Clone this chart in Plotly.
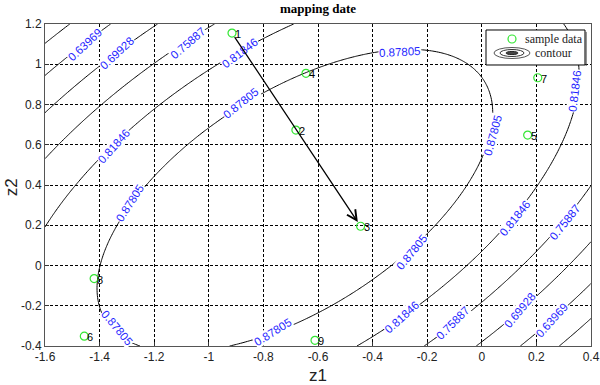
import numpy as np
import plotly.graph_objects as go

# ---------------- data ----------------
sample_z1 = [-0.915, -0.681, -0.444, -0.644, 0.168, -1.456, 0.205, -1.42, -0.611]
sample_z2 = [1.155, 0.673, 0.195, 0.955, 0.648, -0.351, 0.933, -0.065, -0.372]
sample_ids = ["1", "2", "3", "4", "5", "6", "7", "8", "9"]

contour_levels = [0.5801, 0.63969, 0.69928, 0.75887, 0.81846, 0.87805]

# points (z1, z2)
lvA_z1 = [-1.6, -1.49, 0.323, 0.40]
lvA_z2 = [1.105, 1.2, -0.40, -0.256]

lvB_z1 = [-1.6, -1.52, -1.39, -1.355, 0.129, 0.202, 0.312, 0.40]
lvB_z2 = [0.94, 1.016, 1.18, 1.2, -0.40, -0.355, -0.186, -0.07]

lvC_z1 = [-1.6, -1.545, -1.406, -1.263, -1.19, -0.007, 0.078, 0.202, 0.25, 0.312, 0.40]
lvC_z2 = [0.762, 0.83, 0.966, 1.145, 1.2, -0.405, -0.32, -0.123, -0.074, 0.011, 0.11]

lvD_z1 = [-1.6, -1.40, -1.215, -1.142, -1.007, -0.99, -0.219, -0.164, -0.043, 0.092, 0.202, 0.25, 0.36, 0.40]
lvD_z2 = [0.56, 0.77, 1.006, 1.03, 1.195, 1.2, -0.40, -0.37, -0.196, -0.074, 0.077, 0.127, 0.31, 0.38]

lvE_z1 = [-1.6, -1.40, -1.289, -1.215, -0.97, -0.81, -0.677,
          0.28, 0.349, 0.35, 0.345, 0.286, 0.25, 0.195, 0.177, 0.067, -0.08, -0.153, -0.226, -0.362, -0.475]
lvE_z2 = [0.21, 0.524, 0.673, 0.76, 0.996, 1.13, 1.2,
          1.2, 0.99, 0.87, 0.75, 0.583, 0.524, 0.40, 0.325, 0.142, -0.007, -0.074, -0.171, -0.335, -0.40]

lvF_z1 = [-1.406, -1.387, -1.336, -1.241, -1.08, -0.948, -0.81, -0.63, -0.41, -0.20, -0.043, 0.019, 0.041,
          0.045, 0.004, -0.069, -0.153, -0.325, -0.545, -0.666, -0.849, -0.97, -1.208, -1.40, -1.41]
lvF_z2 = [0.0, 0.11, 0.225, 0.41, 0.624, 0.733, 0.88, 0.966, 1.06, 1.07, 1.006, 0.887, 0.812,
          0.70, 0.538, 0.374, 0.21, -0.024, -0.188, -0.263, -0.357, -0.40, -0.40, -0.21, -0.09]

level_points = [(lvA_z1, lvA_z2), (lvB_z1, lvB_z2), (lvC_z1, lvC_z2),
                (lvD_z1, lvD_z2), (lvE_z1, lvE_z2), (lvF_z1, lvF_z2)]

# contour labels: text, z1, z2, angle
label_text = ["0.63969", "0.69928", "0.75887", "0.81846", "0.81846", "0.87805", "0.87805", "0.87805",
              "0.87805", "0.87805", "0.87805", "0.87805", "0.81846", "0.81846", "0.81846", "0.75887",
              "0.75887", "0.69928", "0.63969"]
label_z1 = [-1.455, -1.336, -1.076, -0.886, -1.347, -0.882, -1.289, -0.300,
            0.041, -1.336, -0.765, -0.256, 0.341, 0.122, -0.292, 0.305,
            -0.106, 0.140, 0.257]
label_z2 = [1.098, 1.056, 1.106, 1.056, 0.594, 0.807, 0.311, 1.061,
            0.648, -0.311, -0.330, 0.067, 0.867, 0.236, -0.256, 0.216,
            -0.286, -0.221, -0.271]
label_angle = [-43, -43, -41, -37, -48, -39, -57, -3,
               -75, 50, -32, -51, -83, -51, -42, -51,
               -45, -50, -48]

# ---------------- quadratic surface fitted to the read contour points ----------------
PX, PY, PL = [], [], []
for (xs, ys), lev in zip(level_points, contour_levels):
    PX += xs
    PY += ys
    PL += [lev] * len(xs)
PX, PY, PL = np.array(PX), np.array(PY), np.array(PL)

DEG = 2


def basis(x, y):
    return np.stack([x ** i * y ** j for i in range(DEG + 1) for j in range(DEG + 1 - i)], axis=-1)


coef, *_ = np.linalg.lstsq(basis(PX, PY), PL, rcond=None)
gx = np.linspace(-1.6, 0.4, 241)
gy = np.linspace(-0.4, 1.2, 193)
GX, GY = np.meshgrid(gx, gy)
GZ = (basis(GX.ravel(), GY.ravel()) @ coef).reshape(GX.shape)

step = contour_levels[2] - contour_levels[1]

fig = go.Figure()

fig.add_trace(go.Contour(
    x=gx, y=gy, z=GZ, showscale=False, hoverinfo="skip", autocontour=False,
    contours=dict(start=contour_levels[0], end=contour_levels[-1] + 1e-5, size=step,
                  coloring="none", showlabels=False),
    line=dict(color="black", width=1), showlegend=False))

# sample points
fig.add_trace(go.Scatter(
    x=sample_z1, y=sample_z2, mode="markers", showlegend=False, hoverinfo="skip",
    marker=dict(symbol="circle-open", size=8, color="#33e633", line=dict(width=1.2, color="#33e633"))))

annotations = []
for t, xi, yi, a in zip(label_text, label_z1, label_z2, label_angle):
    annotations.append(dict(x=xi, y=yi, xref="x", yref="y", text=t, showarrow=False, textangle=a,
                            bgcolor="white", borderpad=0,
                            font=dict(family="Arial, Liberation Sans", size=11.5, color="#1f1fff")))

for xi, yi, t in zip(sample_z1, sample_z2, sample_ids):
    annotations.append(dict(x=xi, y=yi, xref="x", yref="y", text=t, showarrow=False,
                            xanchor="left", xshift=1, yshift=-1,
                            font=dict(family="Arial, Liberation Sans", size=11, color="black")))

# arrow from sample 1 to sample 3
annotations.append(dict(x=sample_z1[2], y=sample_z2[2], ax=sample_z1[0], ay=sample_z2[0],
                        xref="x", yref="y", axref="x", ayref="y", text="", showarrow=True,
                        arrowhead=5, arrowsize=1.5, arrowwidth=1.3, arrowcolor="black",
                        standoff=5, startstandoff=3))

# axis titles
annotations.append(dict(x=0.5, y=-0.093, xref="paper", yref="paper", text="z1", showarrow=False,
                        xanchor="center", yanchor="middle",
                        font=dict(family="Arial, Liberation Sans", size=17, color="#222")))
annotations.append(dict(x=-0.06, y=0.494, xref="paper", yref="paper", text="z2", showarrow=False,
                        textangle=-90, xanchor="center", yanchor="middle",
                        font=dict(family="Arial, Liberation Sans", size=17, color="#222")))

# custom legend
lx0, lx1, ly0, ly1 = 0.8077, 0.989, 0.8727, 0.9814
shapes = [
    dict(type="rect", xref="paper", yref="paper", x0=lx0, x1=lx1, y0=ly0, y1=ly1,
         line=dict(color="black", width=1), fillcolor="white", layer="above"),
    dict(type="line", xref="paper", yref="paper", x0=lx1 + 0.002, x1=lx1 + 0.002, y0=ly0 - 0.003, y1=ly1 - 0.006,
         line=dict(color="#444", width=1)),
    dict(type="circle", xref="paper", yref="paper", x0=0.8553 - 0.0073, x1=0.8553 + 0.0073,
         y0=0.9534 - 0.0124, y1=0.9534 + 0.0124, line=dict(color="#33e633", width=1.2)),
]
cx, cy = 0.8553, 0.9099
for hw, hh, col, fill in [(18, 5.5, "#555", None), (12, 3.5, "#333", None), (6, 1.6, "#222", "#444")]:
    d = dict(type="circle", xref="paper", yref="paper", x0=cx - hw / 546, x1=cx + hw / 546,
             y0=cy - hh / 322, y1=cy + hh / 322, line=dict(color=col, width=1))
    if fill:
        d["fillcolor"] = fill
    shapes.append(d)
annotations.append(dict(x=0.8755, y=0.9534, xref="paper", yref="paper", text="sample data",
                        showarrow=False, xanchor="left", yanchor="middle",
                        font=dict(family="Liberation Serif", size=12, color="#222")))
annotations.append(dict(x=0.8938, y=0.9099, xref="paper", yref="paper", text="contour",
                        showarrow=False, xanchor="left", yanchor="middle",
                        font=dict(family="Liberation Serif", size=12, color="#222")))

axis_common = dict(showgrid=True, gridcolor="black", gridwidth=1, griddash="3px,2px",
                   showline=True, linecolor="#555", linewidth=1, mirror=True,
                   ticks="inside", ticklen=4, tickcolor="#333", zeroline=False, automargin=False,
                   tickfont=dict(family="Arial, Liberation Sans", size=12, color="#222"))

fig.update_layout(
    width=600, height=385,
    margin=dict(l=45, r=9, t=24, b=39),
    plot_bgcolor="white", paper_bgcolor="white",
    title=dict(text="<b>mapping date</b>", x=0.53, xanchor="center", y=0.977, yref="container",
               yanchor="middle", font=dict(family="Liberation Serif", size=13, color="black")),
    xaxis=dict(range=[-1.6, 0.4], tickvals=[-1.6, -1.4, -1.2, -1, -0.8, -0.6, -0.4, -0.2, 0, 0.2, 0.4],
               ticktext=["-1.6", "-1.4", "-1.2", "-1", "-0.8", "-0.6", "-0.4", "-0.2", "0", "0.2", "0.4"],
               ticklabelstandoff=0, **axis_common),
    yaxis=dict(range=[-0.4, 1.2], tickvals=[-0.4, -0.2, 0, 0.2, 0.4, 0.6, 0.8, 1, 1.2],
               ticktext=["-0.4", "-0.2", "0", "0.2", "0.4", "0.6", "0.8", "1", "1.2"],
               **axis_common),
    shapes=shapes,
    annotations=annotations,
)

fig.write_html("out.html", config={"displayModeBar": False},
               post_script="document.body.style.margin='0px';")
